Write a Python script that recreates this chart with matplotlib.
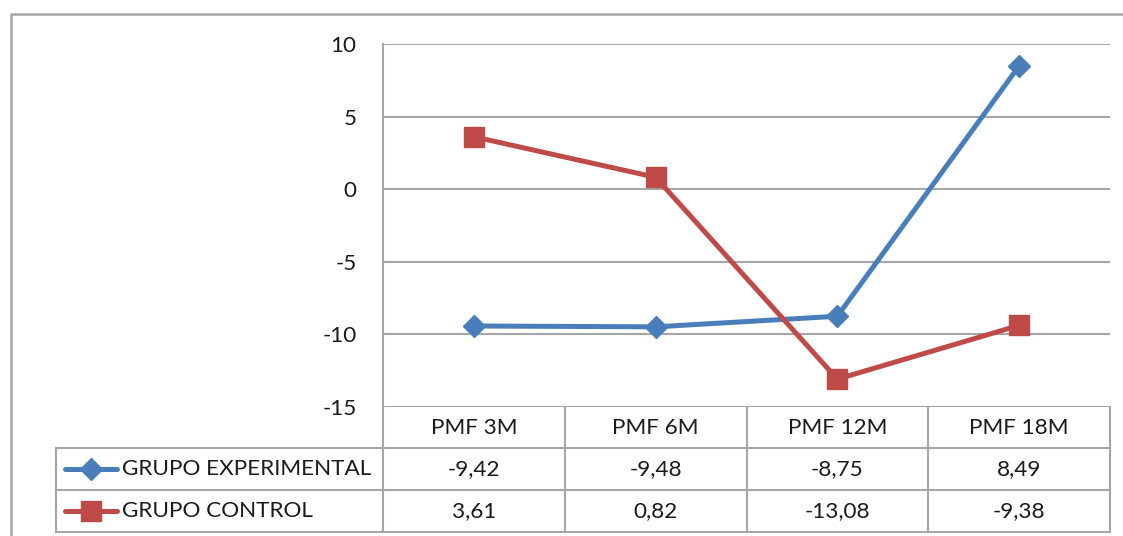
import matplotlib
matplotlib.use("Agg")
import matplotlib.pyplot as plt
from matplotlib.lines import Line2D
import numpy as np

categories = ["PMF 3M", "PMF 6M", "PMF 12M", "PMF 18M"]
series_names = ["GRUPO EXPERIMENTAL", "GRUPO CONTROL"]
experimental = [-9.42, -9.48, -8.75, 8.49]
control = [3.61, 0.82, -13.08, -9.38]
yticks = [10, 5, 0, -5, -10, -15]

plt.rcParams['font.family'] = ['Lato', 'DejaVu Sans']
FS = 16.2
TXT = '#1a1a1a'
GRID = '#a6a6a6'
BLUE = '#4a7ebb'
RED = '#be4b48'

W, H = 1123, 536
fig = plt.figure(figsize=(W / 100, H / 100), dpi=100)


def fx(x):
    return x / W


def fy(y):
    return 1 - y / H


# main plot area
ax = fig.add_axes([fx(383), fy(407), (1110 - 383) / W, (407 - 44) / H])
x = np.arange(len(categories))
ax.set_xlim(-0.5, len(categories) - 0.5)
ax.set_ylim(min(yticks), max(yticks))
ax.set_yticks(yticks)
ax.set_yticklabels([str(t) for t in yticks], fontsize=FS, color=TXT)
ax.tick_params(axis='y', length=0, pad=19)
ax.set_xticks([])
for s in ['top', 'right', 'bottom']:
    ax.spines[s].set_visible(False)
ax.spines['left'].set_color(GRID)
ax.spines['left'].set_linewidth(1.5)
ax.grid(axis='y', color=GRID, linewidth=1.5)
ax.set_axisbelow(True)

series = [experimental, control]
colors = [BLUE, RED]
markers = ['D', 's']
msizes = [11.5, 14]
for vals, c, m, ms in zip(series, colors, markers, msizes):
    ax.plot(x, vals, color=c, linewidth=3.6, marker=m, markersize=ms,
            markeredgecolor=c, markerfacecolor=c, solid_capstyle='round',
            clip_on=False, zorder=3)

# overlay axes in pixel coordinates for table and frame
ov = fig.add_axes([0, 0, 1, 1], facecolor='none')
ov.set_xlim(0, W)
ov.set_ylim(H, 0)
ov.axis('off')

# outer frame
ov.add_line(Line2D([11, 11, W + 5], [H + 5, 14, 14], color=GRID, linewidth=1.8))

# column boundaries from the plot's scale
fig.canvas.draw()
inv = ov.transData.inverted()
def px(xd):
    disp = ax.transData.transform((xd, 0))
    return inv.transform(disp)[0]

col_edges = [px(i - 0.5) for i in range(len(categories) + 1)]
left_table = 56
row_y = [407, 448, 490, 532]

# axis line extension through table
ov.add_line(Line2D([col_edges[0], col_edges[0]], [407, row_y[-1]], color=GRID, linewidth=1.5))
for xe in col_edges[1:]:
    ov.add_line(Line2D([xe, xe], [row_y[0], row_y[-1]], color=GRID, linewidth=1.5))
ov.add_line(Line2D([left_table, left_table], [row_y[1], row_y[-1]], color=GRID, linewidth=1.5))
for yy in row_y[1:]:
    ov.add_line(Line2D([left_table, col_edges[-1]], [yy, yy], color=GRID, linewidth=1.5))

# header labels
for i, cat in enumerate(categories):
    cx = (col_edges[i] + col_edges[i + 1]) / 2
    ov.text(cx, (row_y[0] + row_y[1]) / 2, cat, ha='center', va='center',
            fontsize=FS, color=TXT)

# rows
for r, (name, vals, c, m, ms) in enumerate(zip(series_names, series, colors, markers, msizes)):
    yc = (row_y[r + 1] + row_y[r + 2]) / 2
    ov.add_line(Line2D([65, 117], [yc, yc], color=c, linewidth=3.6,
                       solid_capstyle='round'))
    ov.add_line(Line2D([91], [yc], color=c, marker=m, markersize=ms,
                       markeredgecolor=c, markerfacecolor=c))
    ov.text(122, yc, name, ha='left', va='center', fontsize=FS, color=TXT)
    for i, v in enumerate(vals):
        cx = (col_edges[i] + col_edges[i + 1]) / 2
        ov.text(cx, yc, f"{v:.2f}".replace('.', ','), ha='center', va='center',
                fontsize=FS, color=TXT)

fig.savefig('out.png', dpi=100)
